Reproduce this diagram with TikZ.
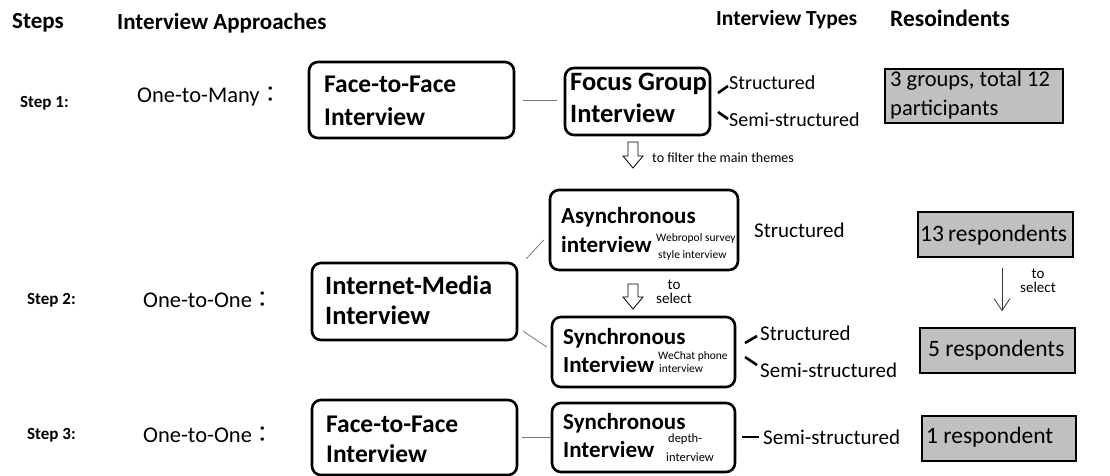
\documentclass[tikz,border=0pt]{standalone}
\usepackage{fontspec}
\setmainfont{Carlito}
\newfontfamily\cjk{Noto Sans CJK TC}
\usetikzlibrary{arrows.meta}
\definecolor{boxgray}{RGB}{192,192,192}
\definecolor{conngray}{RGB}{120,120,120}
\begin{document}
\begin{tikzpicture}[x=1pt,y=-1pt,
  hdr/.style={font=\fontsize{23}{27}\selectfont\bfseries, anchor=west, inner sep=0},
  steplbl/.style={font=\fontsize{17}{20}\selectfont\bfseries, anchor=west, inner sep=0},
  appr/.style={font=\fontsize{22.5}{26}\selectfont, anchor=west, inner sep=0},
  box/.style={draw, line width=2.6pt, rounded corners=9pt, inner sep=0},
  btxt/.style={font=\fontsize{25.5}{30}\selectfont\bfseries, anchor=base west, inner sep=0},
  bstxt/.style={font=\fontsize{23}{27}\selectfont\bfseries, anchor=base west, inner sep=0},
  small/.style={font=\fontsize{11.5}{14}\selectfont, anchor=base west, inner sep=0},
  typ/.style={font=\fontsize{21}{25}\selectfont, anchor=west, inner sep=0},
  gbox/.style={draw, line width=1.5pt, fill=boxgray, inner sep=0},
  gtxt/.style={font=\fontsize{23.5}{28}\selectfont, anchor=west, inner sep=0},
  conn/.style={draw=conngray, line width=0.8pt},
  tick/.style={line width=2.6pt},
  hollow/.style={draw, line width=0.8pt, fill=white},
  note/.style={font=\fontsize{14}{16}\selectfont, anchor=west, inner sep=0},
  sel/.style={font=\fontsize{15}{14}\selectfont, align=center, inner sep=0}
]
\useasboundingbox (0,0) rectangle (1110,476);

% headers
\node[hdr] (hsteps) at (12,23) {Steps};
\node[hdr] (happr) at (117,23) {Interview Approaches};
\node[hdr, font=\fontsize{21.5}{25}\selectfont\bfseries] (htypes) at (716,20) {Interview Types};
\node[hdr, font=\fontsize{23.5}{28}\selectfont\bfseries] (hresp) at (890,18) {Resoindents};

% step labels
\node[steplbl] (s1) at (20,103) {Step 1:};
\node[steplbl] (s2) at (27,300) {Step 2:};
\node[steplbl] (s3) at (27,435) {Step 3:};
\node[appr] (a1) at (137,97) {One-to-Many{\cjk ：}};
\node[appr] (a2) at (143,300) {One-to-One{\cjk ：}};
\node[appr] (a3) at (143,435) {One-to-One{\cjk ：}};

% step 1
\node[box, minimum width=205pt, minimum height=76pt] (b1) at (411.5,100) {};
\node[btxt] (b1t1) at (324,93) {Face-to-Face};
\node[btxt] (b1t2) at (324,125) {Interview};
\node[box, minimum width=145pt, minimum height=67pt] (fg) at (637.5,101.5) {};
\node[btxt, font=\fontsize{26.5}{31}\selectfont\bfseries] (fgt1) at (570,91) {Focus Group};
\node[btxt, font=\fontsize{26.5}{31}\selectfont\bfseries] (fgt2) at (570,122) {Interview};
\draw[conn, shorten <=8pt, shorten >=7pt] (b1.east) -- (b1.east -| fg.west);
\node[typ, font=\fontsize{20}{24}\selectfont] (t1a) at (729,83) {Structured};
\node[typ, font=\fontsize{20}{24}\selectfont] (t1b) at (729,120) {Semi-structured};
\draw[tick] ([shift={(-11,10)}]t1a.west) -- ([shift={(-1,3)}]t1a.west);
\draw[tick] ([shift={(-11,-8)}]t1b.west) -- ([shift={(-1,-1)}]t1b.west);
\node[gbox, minimum width=178pt, minimum height=54pt] (r1) at (974,96) {};
\node[gtxt, font=\fontsize{22.5}{27}\selectfont] (r1t1) at (890,81) {3 groups, total 12};
\node[gtxt, font=\fontsize{22.5}{27}\selectfont] (r1t2) at (890,110) {participants};

% arrow 1
\draw[hollow] (628,142) -- (638,142) -- (638,156) -- (643,156) -- (633,168) -- (623,156) -- (628,156) -- cycle;
\node[note] (n1) at (652,158) {to filter the main themes};

% step 2
\node[box, minimum width=188pt, minimum height=80pt] (as) at (644,230) {};
\node[bstxt] (ast1) at (561,223) {Asynchronous};
\node[bstxt] (ast2) at (561,252) {interview};
\node[small] (ast3) at (656,241) {Webropol survey};
\node[small] (ast4) at (658,258) {style interview};
\node[typ] (t2) at (754,230) {Structured};

\draw[hollow] (628,284) -- (638,284) -- (638,297) -- (643,297) -- (633,309) -- (623,297) -- (628,297) -- cycle;
\node[sel] (n2) at (674,292) {to\\select};

\node[box, minimum width=205pt, minimum height=77pt] (im) at (414.5,301.5) {};
\node[btxt, font=\fontsize{26.5}{31}\selectfont\bfseries] (imt1) at (325,294) {Internet-Media};
\node[btxt, font=\fontsize{26.5}{31}\selectfont\bfseries] (imt2) at (325,324) {Interview};

\node[box, minimum width=183pt, minimum height=70pt] (sy2) at (643.5,352) {};
\node[bstxt] (sy2t1) at (563,344) {Synchronous};
\node[bstxt] (sy2t2) at (563,372) {Interview};
\node[small] (sy2t3) at (658,359) {WeChat phone};
\node[small] (sy2t4) at (659,372) {interview};

\draw[conn] ([shift={(8,-3)}]im.north east) -- ([shift={(-5,10)}]as.west);
\draw[conn] ([shift={(5,-10)}]im.south east) -- ([shift={(-4,-5)}]sy2.west);

\node[typ] (t3a) at (760,333) {Structured};
\node[typ] (t3b) at (760,370) {Semi-structured};
\draw[tick] ([shift={(-15,10)}]t3a.west) -- ([shift={(-3,3)}]t3a.west);
\draw[tick] ([shift={(-15,-13)}]t3b.west) -- ([shift={(-3,-5)}]t3b.west);

\node[gbox, minimum width=155pt, minimum height=45pt] (r13) at (995.5,234.5) {};
\node[gtxt] (r13t) at (920,235) {13\kern4pt respondents};
\node[gbox, minimum width=155pt, minimum height=45pt] (r5) at (997.5,350.5) {};
\node[gtxt] (r5t) at (928,350) {5 respondents};
\draw[line width=0.8pt, draw=black!80, -{Straight Barb[length=12pt,width=16pt]}] ([shift={(6.5,10)}]r13.south) -- ([shift={(4.5,-16)}]r5.north);
\node[sel] (n3) at (1038,281) {to\\select};

% step 3
\node[box, minimum width=205pt, minimum height=75pt] (f3) at (414.5,437.5) {};
\node[btxt] (f3t1) at (326,432) {Face-to-Face};
\node[btxt] (f3t2) at (326,462) {Interview};
\node[box, minimum width=183pt, minimum height=69pt] (sy3) at (643.5,437.5) {};
\node[bstxt] (sy3t1) at (563,429) {Synchronous};
\node[bstxt] (sy3t2) at (563,457) {Interview};
\node[small, font=\fontsize{12.5}{15}\selectfont] (sy3t3) at (668,442) {depth-};
\node[small, font=\fontsize{12.5}{15}\selectfont] (sy3t4) at (666,461) {interview};
\draw[conn, shorten <=4pt] (f3.east) -- (f3.east -| sy3.west);
\node[typ] (t4) at (763,437) {Semi-structured};
\draw[tick] ([xshift=-21pt]t4.west) -- ([xshift=-4pt]t4.west);
\node[gbox, minimum width=154pt, minimum height=45pt] (r1r) at (999,438.5) {};
\node[gtxt] (r1rt) at (926,437) {1 respondent};
\end{tikzpicture}
\end{document}
